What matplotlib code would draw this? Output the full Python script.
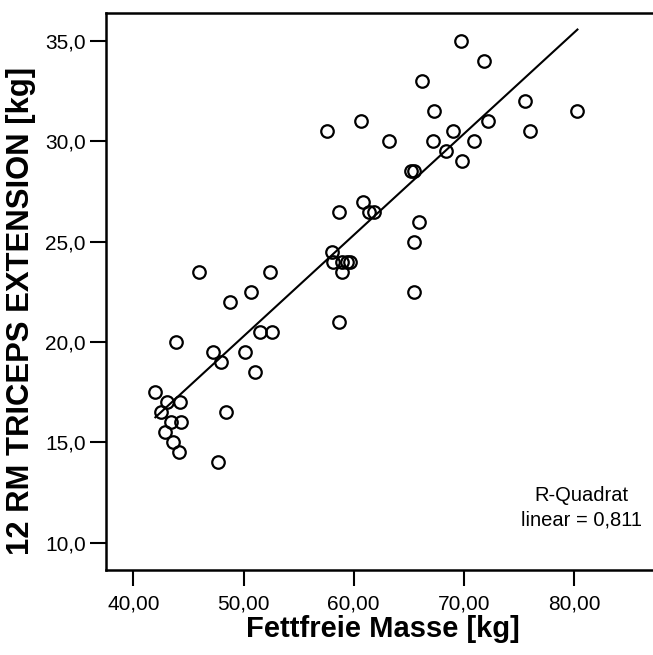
import numpy as np
import matplotlib
matplotlib.use("Agg")
import matplotlib.pyplot as plt

plt.rcParams['font.family'] = ['Liberation Sans', 'DejaVu Sans']

# Fettfreie Masse [kg]
fat_free_mass = [
    48.8, 43.9, 47.2, 48.0, 51.5, 52.6, 50.1, 51.0, 42.0, 43.1,
    44.2, 42.5, 48.4, 43.45, 44.3, 42.9, 43.6, 44.1, 47.7,
    58.7, 60.8, 61.4, 61.8, 65.9, 65.5, 65.5, 58.7, 58.0, 58.1,
    58.9, 59.4, 59.7, 58.9, 52.4,
    46.0, 50.7,
    69.7, 71.8, 66.2, 75.5, 80.3, 67.3, 60.7, 57.6, 72.2, 76.0,
    63.2, 67.2, 69.0, 70.9, 68.4, 69.8, 65.2, 65.5,
]
# 12 RM Triceps Extension [kg]
triceps_12rm = [
    22.0, 20.0, 19.5, 19.0, 20.5, 20.5, 19.5, 18.5, 17.5, 17.0,
    17.0, 16.5, 16.5, 16.0, 16.0, 15.5, 15.0, 14.5, 14.0,
    26.5, 27.0, 26.5, 26.5, 26.0, 25.0, 22.5, 21.0, 24.5, 24.0,
    24.0, 24.0, 24.0, 23.5, 23.5,
    23.5, 22.5,
    35.0, 34.0, 33.0, 32.0, 31.5, 31.5, 31.0, 30.5, 31.0, 30.5,
    30.0, 30.0, 30.5, 30.0, 29.5, 29.0, 28.5, 28.5,
]
# linear fit as shown in the chart
fit_intercept = -4.94
fit_slope = 0.5045

x_ticks = [40, 50, 60, 70, 80]
x_ticklabels = ["40,00", "50,00", "60,00", "70,00", "80,00"]
y_ticks = [10, 15, 20, 25, 30, 35]
y_ticklabels = ["10,0", "15,0", "20,0", "25,0", "30,0", "35,0"]
r2_text = "R-Quadrat\nlinear = 0,811"

x = np.array(fat_free_mass)
y = np.array(triceps_12rm)

W, H, DPI = 653, 655, 100
fig = plt.figure(figsize=(W / DPI, H / DPI), dpi=DPI)
left_px, right_px, top_px, bottom_px = 106, 660, 13.3, 570
ax = fig.add_axes([left_px / W, 1 - bottom_px / H,
                   (right_px - left_px) / W, (bottom_px - top_px) / H])

xmin = 37.52
ax.set_xlim(xmin, xmin + (right_px - left_px) / 11.02)
ax.set_ylim(8.64, 36.38)

# regression line over the data range
xl = np.array([x.min(), x.max()])
ax.plot(xl, fit_slope * xl + fit_intercept, color='black', lw=1.5, zorder=2)

ax.plot(x, y, linestyle='none', marker='o', markersize=9,
        markerfacecolor='none', markeredgecolor='black',
        markeredgewidth=1.6, zorder=3, clip_on=False)

ax.set_xticks(x_ticks)
ax.set_xticklabels(x_ticklabels)
ax.set_yticks(y_ticks)
ax.set_yticklabels(y_ticklabels)
ax.tick_params(direction='out', length=11.5, width=1.5, labelsize=15,
               colors='black')
ax.tick_params(axis='x', pad=6.5)
ax.tick_params(axis='y', pad=3)

for s in ['left', 'bottom', 'top']:
    ax.spines[s].set_linewidth(1.8)
ax.spines['right'].set_visible(False)

ax.set_xlabel("Fettfreie Masse [kg]", fontsize=21, fontweight='bold',
              labelpad=1)

# y label: slightly larger and centred a little below the axes centre
fig.text(21.5 / W, 1 - 311 / H, "12 RM TRICEPS EXTENSION [kg]",
         rotation=90, ha='center', va='center', fontsize=22.3,
         fontweight='bold')

ax.text(0.859, 0.112, r2_text, transform=ax.transAxes, ha='center',
        va='center', multialignment='center', fontsize=14.5,
        linespacing=1.4)

fig.savefig("out.png", dpi=DPI)
